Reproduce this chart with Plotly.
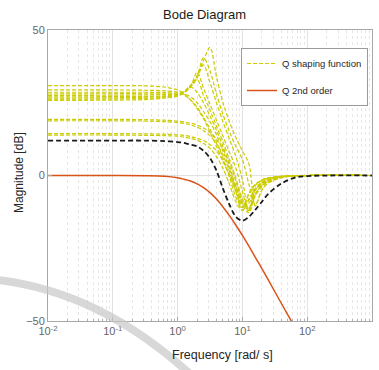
import plotly.graph_objects as go

# ---- data (frequency in rad/s, magnitude in dB) ----
freq = [0.01, 0.1, 0.32, 0.63, 1.0, 1.26, 1.58, 2.0, 2.51, 3.16, 3.98, 5.01,
        6.31, 7.94, 10.0, 12.6, 15.8, 20.0, 25.1, 39.8, 63.1, 100.0, 1000.0]

q_shaping_1 = [25.8, 25.9, 26.1, 26.6, 27.3, 28.5, 30.6, 34.3, 39.5, 44.0, 34.0, 25.0, 18.5, 13.0, 8.5, 4.0, -10.5, -5.0, -2.6, -0.8, -0.2, 0, 0]
q_shaping_2 = [26.2, 26.3, 26.5, 26.9, 27.5, 28.5, 30.5, 34.0, 40.5, 36.0, 28.0, 21.0, 15.0, 10.0, 5.5, -3.0, -10.0, -5.0, -2.4, -0.7, -0.1, 0, 0]
q_shaping_3 = [26.6, 26.7, 26.9, 27.2, 27.7, 28.6, 30.3, 33.5, 38.0, 32.0, 25.0, 18.5, 12.5, 6.5, -1.5, -12.0, -7.0, -3.8, -2.0, -0.5, -0.1, 0, 0]
q_shaping_4 = [27.0, 27.1, 27.2, 27.4, 27.8, 28.7, 30.5, 35.5, 30.0, 24.5, 19.0, 13.5, 8.0, 2.5, -5.5, -12.5, -6.5, -3.5, -1.8, -0.5, -0.1, 0, 0]
q_shaping_5 = [27.5, 27.6, 27.7, 27.8, 28.0, 28.8, 31.0, 33.0, 27.5, 22.5, 17.0, 11.5, 5.5, -1.0, -8.0, -11.5, -5.0, -2.5, -1.3, -0.4, -0.1, 0, 0]
q_shaping_6 = [28.0, 28.1, 28.1, 28.1, 28.1, 28.9, 30.5, 28.5, 25.0, 20.5, 15.5, 10.0, 3.5, -4.5, -11.0, -6.5, -3.2, -1.6, -0.9, -0.3, -0.1, 0, 0]
q_shaping_7 = [28.6, 28.6, 28.6, 28.5, 28.2, 28.0, 27.0, 25.0, 22.0, 18.5, 14.0, 8.5, 2.5, -3.5, -9.0, -11.0, -4.5, -2.2, -1.2, -0.4, -0.1, 0, 0]
q_shaping_8 = [29.4, 29.4, 29.3, 29.1, 28.6, 27.6, 26.0, 23.5, 20.0, 16.0, 11.5, 6.0, -0.5, -7.5, -11.0, -6.0, -3.0, -1.5, -0.8, -0.3, -0.1, 0, 0]
q_shaping_9 = [30.9, 30.9, 30.8, 30.4, 29.4, 28.0, 26.0, 23.0, 19.5, 15.0, 10.0, 5.0, 0.0, -5.5, -10.0, -9.5, -3.5, -1.6, -0.9, -0.3, -0.1, 0, 0]
q_shaping_10 = [19.3, 19.3, 19.2, 19.0, 18.7, 18.4, 18.0, 17.3, 16.3, 14.8, 12.5, 9.0, 4.5, -2.0, -9.0, -12.0, -6.5, -3.5, -1.8, -0.5, -0.1, 0, 0]
q_shaping_11 = [18.8, 18.8, 18.7, 18.5, 18.2, 17.9, 17.4, 16.6, 15.4, 13.6, 11.0, 7.0, 1.5, -5.5, -12.0, -8.5, -5.0, -2.8, -1.5, -0.4, -0.1, 0, 0]
q_shaping_12 = [14.4, 14.4, 14.3, 14.2, 14.0, 13.8, 13.4, 12.8, 12.0, 10.6, 8.5, 5.0, 0.5, -4.0, -10.0, -12.8, -6.5, -3.3, -1.7, -0.5, -0.1, 0, 0]
q_shaping_13 = [13.9, 13.9, 13.8, 13.7, 13.5, 13.2, 12.8, 12.1, 11.0, 9.3, 6.5, 2.5, -3.0, -9.0, -12.0, -8.0, -5.0, -2.8, -1.5, -0.5, -0.1, 0, 0]

q_nominal = [12.0, 12.0, 12.0, 11.8, 11.5, 11.2, 10.6, 10.0, 8.5, 6.0, 1.7, -4.5, -10.0, -14.2, -15.5, -14.2, -11.8, -9.0, -6.3, -2.8, -0.8, -0.2, 0.0]

q_2nd_order = [0.0, 0.0, -0.1, -0.3, -0.8, -1.3, -1.9, -2.9, -4.2, -5.9, -8.1, -10.8,
               -13.8, -17.1, -20.6, -24.3, -28.1, -32.0, -35.9, -43.9, -51.8, -60.0, -100.0]

q_shaping_curves = [q_shaping_1, q_shaping_2, q_shaping_3, q_shaping_4, q_shaping_5,
                    q_shaping_6, q_shaping_7, q_shaping_8, q_shaping_9, q_shaping_10,
                    q_shaping_11, q_shaping_12, q_shaping_13]

x_tick_vals = [0.01, 0.1, 1, 10, 100, 1000]
x_tick_text = ["10<sup>-2</sup>", "10<sup>-1</sup>", "10<sup>0</sup>",
               "10<sup>1</sup>", "10<sup>2</sup>", "10<sup>3</sup>"]
y_tick_vals = [-50, 0, 50]

# ---- styles ----
YEL = "rgb(204,204,0)"
RED = "rgb(217,83,25)"
FONT = "Liberation Sans, Arial, sans-serif"

fig = go.Figure()

for i, mag in enumerate(q_shaping_curves):
    fig.add_trace(go.Scatter(
        x=freq, y=mag, mode="lines",
        line=dict(color=YEL, width=1.2, dash="4px,2px", shape="spline", smoothing=0.9),
        name="Q shaping function", legendgroup="g1",
        showlegend=(i == 0), hoverinfo="skip"))

fig.add_trace(go.Scatter(
    x=freq, y=q_nominal, mode="lines",
    line=dict(color="#1a1a1a", width=1.8, dash="5px,3px", shape="spline", smoothing=0.9),
    showlegend=False, hoverinfo="skip"))

fig.add_trace(go.Scatter(
    x=freq, y=q_2nd_order, mode="lines",
    line=dict(color=RED, width=1.5, shape="spline", smoothing=0.9),
    name="Q 2nd order", legendgroup="g2", hoverinfo="skip"))

L, R, T, B = 48, 7, 30, 49
W, H = 379, 370
pw, ph = W - L - R, H - T - B

def px(xp):
    return (xp - L) / pw

def py(yp):
    return (H - B - yp) / ph

fig.update_layout(
    width=W, height=H,
    margin=dict(l=L, r=R, t=T, b=B),
    paper_bgcolor="white", plot_bgcolor="white",
    font=dict(family=FONT, size=11, color="#555555"),
    showlegend=True,
    legend=dict(x=px(241), y=py(48), xanchor="left", yanchor="top",
                bgcolor="white", bordercolor="#9a9a9a", borderwidth=1,
                font=dict(family=FONT, size=9.5, color="#262626"),
                itemwidth=30, traceorder="grouped", tracegroupgap=8),
    xaxis=dict(type="log", range=[-2, 3],
               tickvals=x_tick_vals, ticktext=x_tick_text,
               tickfont=dict(size=11, color="#666666"),
               showgrid=True, gridcolor="#e2e2e2", gridwidth=1,
               showline=True, linecolor="#a8a8a8", linewidth=1, mirror=True,
               ticks="inside", ticklen=4, tickcolor="#a8a8a8",
               minor=dict(dtick="D1", showgrid=True, gridcolor="#e6e6e6",
                          griddash="dot", ticks="inside", ticklen=2, tickcolor="#b0b0b0"),
               zeroline=False),
    yaxis=dict(range=[-50, 50], tickvals=y_tick_vals,
               tickfont=dict(size=11, color="#666666"),
               showgrid=True, gridcolor="#e2e2e2", gridwidth=1,
               showline=True, linecolor="#a8a8a8", linewidth=1, mirror=True,
               ticks="inside", ticklen=4, tickcolor="#a8a8a8",
               zeroline=False),
    annotations=[
        dict(text="Bode Diagram", x=px(204.5), y=py(15), xref="paper", yref="paper",
             showarrow=False, xanchor="center", yanchor="middle",
             font=dict(family=FONT, size=13, color="#1a1a1a")),
        dict(text="Magnitude [dB]", x=px(19), y=py(173), xref="paper", yref="paper",
             showarrow=False, xanchor="center", yanchor="middle", textangle=-90,
             font=dict(family=FONT, size=12, color="#262626")),
        dict(text="Frequency [rad/ s]", x=px(222), y=py(355), xref="paper", yref="paper",
             showarrow=False, xanchor="center", yanchor="middle",
             font=dict(family=FONT, size=12.5, color="#262626")),
    ],
)

# light grey watermark swoosh seen in the reference image
x0, y0 = px(-2), py(280)
xc, yc = px(100), py(292)
x1, y1 = px(190), py(374)
fig.add_shape(type="path", xref="paper", yref="paper",
              path=f"M {x0},{y0} Q {xc},{yc} {x1},{y1}",
              line=dict(color="rgba(200,200,200,0.7)", width=8), layer="above")

fig.write_html("out.html")
